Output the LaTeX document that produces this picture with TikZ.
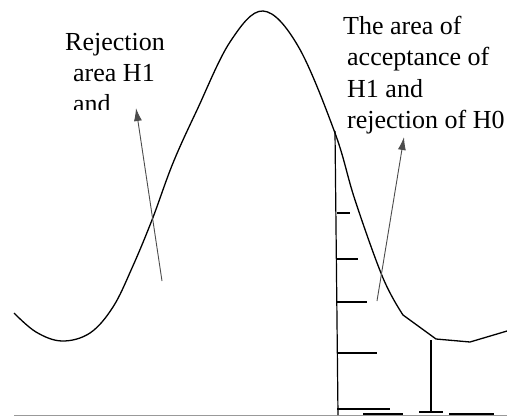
\documentclass[tikz,border=0pt]{standalone}
\usepackage{fontspec}
\setmainfont{Liberation Serif}
\usetikzlibrary{arrows.meta,positioning}
\tikzset{
    lbl_text/.style={anchor=base west, inner sep=0pt, font=\fontsize{26}{31}\selectfont},
    curve_line/.style={draw=black, line width=1.3pt, line join=round},
    tick_line/.style={draw=black, line width=1.2pt},
    bar_line/.style={draw=black, line width=2.6pt},
    ptr_arrow/.style={draw=black!70, line width=0.9pt, -{Latex[length=13pt,width=8pt]}},
    base_line/.style={draw=black!40, line width=1pt}
}

\begin{document}
\begin{tikzpicture}[x=1pt,y=-1pt]
\useasboundingbox (0,0) rectangle (507,416);
% base line
\draw[base_line] (14,415) -- (507,415);
% density curve
\draw[curve_line] plot[smooth, tension=0.6] coordinates {
    (14,313) (36,332) (62,341) (90,333) (113,307) (132,268) (152,220)
    (173,163) (197,110) (230,42) (263,11) (298,46) (335,133)
    (355,200) (383,278) (403,315)}
    -- (436,339) -- (470,342) -- (497,334) -- (507,331);
% critical line with ticks
\draw[tick_line] (335,131) -- (338,415);
\foreach \y/\x in {213/350, 259/358, 302/367, 353/377, 409/390}
    \draw[tick_line] (337,\y) -- (\x,\y);
\draw[tick_line] (363,414) -- (403,414);
\draw[tick_line] (449,414) -- (494,414);
\draw[tick_line] (419,412) -- (443,412);
\draw[bar_line] (431,340) -- (431,412);
% labels
\begin{scope}
    \clip (0,0) rectangle (300,109);
    \node[lbl_text] (rej_a) at (65,50) {Rejection};
    \node[lbl_text] (rej_b) at (73,81) {area H1};
    \node[lbl_text] (rej_c) at (73,112) {and};
\end{scope}
\node[lbl_text] (acc_a) at (343,34) {The area of};
\node[lbl_text] (acc_b) at (347,65) {acceptance of};
\node[lbl_text] (acc_c) at (347,97) {H1 and};
\node[lbl_text] (acc_d) at (347,128) {rejection of H0};
% pointers
\coordinate (rej_tail) at (162,281);
\coordinate (rej_tip) at (136,108);
\coordinate (acc_tail) at (377,301);
\coordinate (acc_tip) at (404,137);
\draw[ptr_arrow] (rej_tail) -- (rej_tip);
\draw[ptr_arrow] (acc_tail) -- (acc_tip);
\end{tikzpicture}
\end{document}
